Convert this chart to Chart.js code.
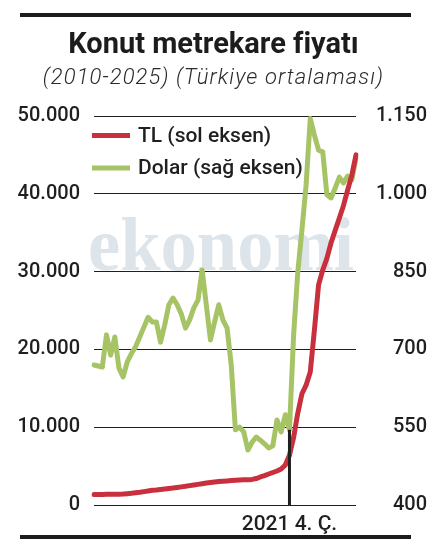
<!DOCTYPE html>
<html>
<head>
<meta charset="utf-8">
<script src="https://cdn.jsdelivr.net/npm/chart.js@4.4.1/dist/chart.umd.min.js"></script>
<style>
  html, body { margin: 0; padding: 0; background: #fff; }
  #wrap { position: relative; width: 427px; height: 555px; overflow: hidden; }
  #chartBox { position: absolute; left: 0; top: 0; width: 427px; height: 555px; }
  .bar { position: absolute; left: 20px; width: 391px; height: 4px; background: #1c1c1c; }
  #title { position: absolute; left: 0; width: 427px; top: 29px; text-align: center;
    font-family: Roboto, sans-serif; font-weight: 700; font-size: 29px; line-height: 29px; color: #1c1c1c;
    font-variant-ligatures: none; }
  #subtitle { position: absolute; left: 0; width: 427px; top: 66px; text-align: center;
    font-family: Roboto, sans-serif; font-weight: 300; font-style: italic; font-size: 22px; line-height: 22px;
    color: #2a2a2a; letter-spacing: 1.1px; }
</style>
</head>
<body>
<div id="wrap">
  <div id="chartBox"><canvas id="c"></canvas></div>
  <div class="bar" style="top:13px"></div>
  <div id="title">Konut metrekare fiyatı</div>
  <div id="subtitle">(2010-2025) (Türkiye ortalaması)</div>
  <div class="bar" style="top:535px"></div>
</div>
<script>
// ---- data ----
const years = [2010, 2011, 2012, 2013, 2014, 2015, 2016, 2017, 2018, 2019, 2020, 2021, 2022, 2023, 2024, 2025];
const quarterNames = ["1. Ç.", "2. Ç.", "3. Ç.", "4. Ç."];
const quarters = [];
years.forEach(y => quarterNames.forEach(q => quarters.push(y + " " + q)));

// TL per m2 (left axis)
const tlValues = [
  1350, 1350, 1360, 1375, 1375, 1380, 1390, 1410, 1460, 1500,
  1570, 1630, 1720, 1800, 1890, 1930, 1990, 2060, 2120, 2180,
  2260, 2330, 2400, 2490, 2570, 2650, 2740, 2830, 2890, 2960,
  3020, 3060, 3100, 3140, 3170, 3210, 3240, 3260, 3290, 3400,
  3600, 3770, 3980, 4180, 4370, 4630, 5140, 6400, 8700, 11800,
  14300, 15400, 17100, 22500, 28300, 30200, 31700, 33700, 35300, 36900,
  38500, 40500, 42400, 45000
];
// USD per m2 (right axis)
const usdValues = [
  670, 668, 666, 728, 689, 724, 664, 647, 676, 692,
  705, 724, 743, 762, 753, 753, 714, 747, 786, 799,
  786, 768, 741, 757, 780, 795, 853, 786, 718, 753,
  786, 757, 741, 670, 545, 550, 541, 506, 521, 531,
  525, 518, 510, 514, 564, 541, 574, 545, 728, 849,
  930, 1017, 1145, 1113, 1084, 1081, 998, 992, 1011, 1032,
  1021, 1034, 1027, 1069
];
const leftTicks = [0, 10000, 20000, 30000, 40000, 50000];
const rightTicks = [400, 550, 700, 850, 1000, 1150];
const seriesLabels = ["TL (sol eksen)", "Dolar (sağ eksen)"];
const markIndex = quarters.indexOf("2021 4. Ç.");
const markLabel = "2021 4. Ç.";
const watermark = "ekonomi";

const RED = "#c8303e";
const GREEN = "#a6c465";
const INK = "#1f1f1f";
const FONT = "Roboto, sans-serif";

const fmt = v => String(v).replace(/\B(?=(\d{3})+(?!\d))/g, ".");

const watermarkPlugin = {
  id: "watermark",
  beforeDatasetsDraw(chart) {
    const { ctx, chartArea } = chart;
    ctx.save();
    ctx.font = 'bold 76px "Liberation Serif", serif';
    ctx.fillStyle = "#dde5ea";
    ctx.textBaseline = "alphabetic";
    ctx.textAlign = "left";
    const w = ctx.measureText(watermark).width;
    const target = chartArea.right - chartArea.left + 4;
    ctx.translate(chartArea.left - 6, chartArea.top + 154);
    ctx.scale(target / w, 1);
    ctx.fillText(watermark, 0, 0);
    ctx.restore();
  }
};

const markPlugin = {
  id: "mark",
  afterDatasetsDraw(chart) {
    const { ctx, scales } = chart;
    const x = scales.x.getPixelForValue(markIndex);
    const yTop = scales.y2.getPixelForValue(usdValues[markIndex]);
    const yBot = scales.y.getPixelForValue(0);
    ctx.save();
    ctx.strokeStyle = INK;
    ctx.lineWidth = 3;
    ctx.beginPath();
    ctx.moveTo(x, yTop);
    ctx.lineTo(x, yBot);
    ctx.stroke();
    ctx.restore();
  }
};

const legendPlugin = {
  id: "customLegend",
  afterDraw(chart) {
    const { ctx, chartArea } = chart;
    ctx.save();
    ctx.font = "500 21px " + FONT;
    ctx.textBaseline = "middle";
    ctx.textAlign = "left";
    const rows = [chartArea.top + 19.5, chartArea.top + 52];
    chart.data.datasets.forEach((ds, i) => {
      const y = rows[i];
      ctx.fillStyle = ds.borderColor;
      ctx.fillRect(chartArea.left - 2, y - 2.5, 38, 5);
      ctx.fillStyle = INK;
      ctx.fillText(ds.label, chartArea.left + 44, y + 1);
    });
    ctx.restore();
  }
};

new Chart(document.getElementById("c"), {
  type: "line",
  data: {
    labels: quarters,
    datasets: [
      { label: seriesLabels[0], data: tlValues, yAxisID: "y", borderColor: RED, backgroundColor: RED,
        borderWidth: 5, pointRadius: 0, tension: 0, borderCapStyle: "round", borderJoinStyle: "round" },
      { label: seriesLabels[1], data: usdValues, yAxisID: "y2", borderColor: GREEN, backgroundColor: GREEN,
        borderWidth: 5, pointRadius: 0, tension: 0, borderCapStyle: "round", borderJoinStyle: "round" }
    ]
  },
  options: {
    responsive: true,
    maintainAspectRatio: false,
    animation: false,
    events: [],
    layout: { padding: { top: 116, left: 0, right: 0, bottom: 20 } },
    plugins: { legend: { display: false }, title: { display: false }, tooltip: { enabled: false } },
    scales: {
      x: {
        type: "category",
        offset: false,
        grid: { display: false },
        border: { display: false },
        afterFit(s) { s.height = 30; },
        ticks: {
          autoSkip: false, maxRotation: 0, minRotation: 0, padding: -1,
          color: INK, font: { family: FONT, size: 21, weight: "500" },
          callback: (v, i) => (i === markIndex ? markLabel : "")
        }
      },
      y: {
        position: "left",
        min: 0, max: 50000,
        afterFit(s) { s.width = 94; },
        afterBuildTicks(s) { s.ticks = leftTicks.map(v => ({ value: v })); },
        grid: { color: INK, lineWidth: 1, drawTicks: false },
        border: { display: false },
        ticks: { padding: 14, color: INK, font: { family: FONT, size: 20, weight: "500" }, callback: v => fmt(v) }
      },
      y2: {
        position: "right",
        min: 400, max: 1150,
        afterFit(s) { s.width = 71; },
        afterBuildTicks(s) { s.ticks = rightTicks.map(v => ({ value: v })); },
        grid: { display: false, drawTicks: false },
        border: { display: false },
        ticks: { padding: 6, crossAlign: "far", color: INK, font: { family: FONT, size: 20, weight: "500" }, callback: v => fmt(v) }
      }
    }
  },
  plugins: [watermarkPlugin, markPlugin, legendPlugin]
});
</script>
</body>
</html>
